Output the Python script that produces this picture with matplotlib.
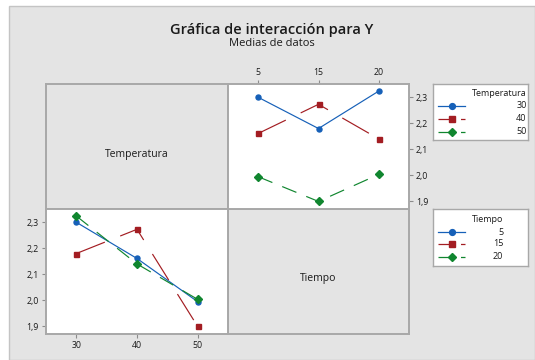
import matplotlib
matplotlib.use("Agg")
import matplotlib.pyplot as plt
from matplotlib.patches import Rectangle
from matplotlib.lines import Line2D

plt.rcParams['font.family'] = ['Open Sans', 'DejaVu Sans']

# Factor levels
tiempo = [5, 15, 20]
temperatura = [30, 40, 50]

# Mean response Y for each Temperatura, by Tiempo level (5, 15, 20)
means_t30 = [2.300, 2.180, 2.324]
means_t40 = [2.161, 2.273, 2.140]
means_t50 = [1.995, 1.900, 2.004]

yticks = [1.9, 2.0, 2.1, 2.2, 2.3]

W, H = 535, 360
fig = plt.figure(figsize=(W / 100, H / 100), dpi=100)
fig.patch.set_facecolor('white')

BG = '#e4e4e4'
FRAME = '#a8a8a8'
TXT = '#1a1a1a'

# gray page behind everything
fig.add_artist(Rectangle((9 / W, 0), 1 - 9 / W, 1 - 6 / H, transform=fig.transFigure,
                         facecolor=BG, edgecolor='#c4c4c4', lw=1.0, zorder=-10))

fig.text(272 / W, 1 - 30 / H, 'Gráfica de interacción para Y', ha='center', va='center',
         fontsize=10.5, fontweight='semibold', color=TXT)
fig.text(272 / W, 1 - 44 / H, 'Medias de datos', ha='center', va='center',
         fontsize=8, color=TXT)


def px_axes(x0, y0, x1, y1):
    return fig.add_axes([x0 / W, 1 - y1 / H, (x1 - x0) / W, (y1 - y0) / H])


def style(ax, face):
    ax.set_facecolor(face)
    for s in ax.spines.values():
        s.set_color(FRAME)
        s.set_linewidth(1.4)
    ax.tick_params(colors='#8c8c8c', labelcolor=TXT, labelsize=6.3, length=3, width=0.8, pad=2)


XL, XM, XR = 46, 228, 409
YT, YM, YB = 84, 209, 334
ylim = (1.871, 2.351)

colors = ['#1660b8', '#a31d22', '#10862f']
markers = ['o', 's', 'D']
msizes = [3.6, 3.6, 3.8]
dashes = [None, (26, 14), (13, 9)]


def draw_series(ax, x, y, i):
    ln, = ax.plot(x, y, color=colors[i], lw=0.85, marker=markers[i], ms=msizes[i],
                  mec=colors[i], mfc=colors[i], clip_on=False)
    if dashes[i] is not None:
        ln.set_dashes(dashes[i])
    return ln


fmt = lambda v: f'{v:.1f}'.replace('.', ',')

# top-left label cell
ax_tl = px_axes(XL, YT, XM, YM)
style(ax_tl, BG)
ax_tl.set_xticks([]); ax_tl.set_yticks([])
ax_tl.text(0.5, 0.44, 'Temperatura', transform=ax_tl.transAxes, ha='center', va='center',
           fontsize=7.5, color=TXT)

# bottom-right label cell
ax_br = px_axes(XM, YM, XR, YB)
style(ax_br, BG)
ax_br.set_xticks([]); ax_br.set_yticks([])
ax_br.text(0.5, 0.44, 'Tiempo', transform=ax_br.transAxes, ha='center', va='center',
           fontsize=7.5, color=TXT)

# top-right: Y vs Tiempo, one line per Temperatura
ax_tr = px_axes(XM, YT, XR, YM)
style(ax_tr, 'white')
pos = [1, 2, 3]
for i, m in enumerate([means_t30, means_t40, means_t50]):
    draw_series(ax_tr, pos, m, i)
ax_tr.set_xlim(0.5, 3.5)
ax_tr.set_ylim(*ylim)
ax_tr.set_xticks(pos, [str(t) for t in tiempo])
ax_tr.set_yticks(yticks, [fmt(v) for v in yticks])
ax_tr.xaxis.tick_top()
ax_tr.yaxis.tick_right()

# bottom-left: Y vs Temperatura, one line per Tiempo
ax_bl = px_axes(XL, YM, XM, YB)
style(ax_bl, 'white')
by_time = list(zip(means_t30, means_t40, means_t50))
for i, m in enumerate(by_time):
    draw_series(ax_bl, temperatura, m, i)
ax_bl.set_xlim(25, 55)
ax_bl.set_ylim(*ylim)
ax_bl.set_xticks(temperatura, [str(t) for t in temperatura])
ax_bl.set_yticks(yticks, [fmt(v) for v in yticks])

renderer = fig.canvas.get_renderer()


def legend_box(x0, y0, w, h, title, labels, rows):
    ax = px_axes(x0, y0, x0 + w, y0 + h)
    ax.set_xlim(0, w)
    ax.set_ylim(h, 0)
    ax.set_xticks([]); ax.set_yticks([])
    ax.set_facecolor('white')
    for s in ax.spines.values():
        s.set_color('#a8a8a8')
        s.set_linewidth(1.0)
    t = ax.text(39, 10, title, ha='left', va='center', fontsize=6.5, color=TXT)
    bb = t.get_window_extent(renderer=renderer)
    xr = ax.transData.inverted().transform((bb.x1, bb.y0))[0]
    for i, (lab, yy) in enumerate(zip(labels, rows)):
        ln = Line2D([5, 32], [yy, yy], color=colors[i], lw=0.9)
        if dashes[i] is not None:
            ln.set_dashes((14, 4))
        ax.add_line(ln)
        ax.plot([19], [yy], marker=markers[i], ms=msizes[i] + 0.6, color=colors[i],
                mec=colors[i], linestyle='none')
        ax.text(xr, yy, lab, ha='right', va='center', fontsize=6.5, color=TXT)
    return ax


legend_box(433, 84, 95, 56, 'Temperatura', [str(t) for t in temperatura], [21.7, 35, 48])
legend_box(433, 209, 95, 57, 'Tiempo', [str(t) for t in tiempo], [23, 35, 47.7])

fig.savefig('out.png', dpi=100, facecolor=fig.get_facecolor())
